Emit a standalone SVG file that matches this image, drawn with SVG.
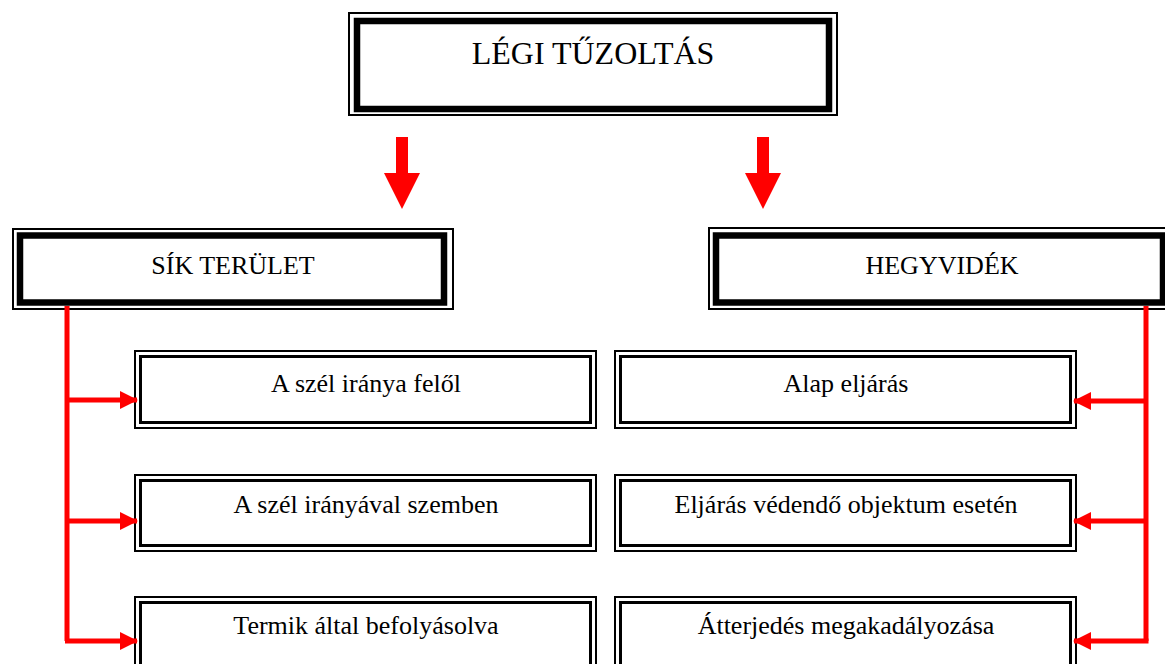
<svg xmlns="http://www.w3.org/2000/svg" width="1165" height="664" viewBox="0 0 1165 664">
<style>
.thin{fill:none;stroke:#000;stroke-width:2}
.thick{fill:none;stroke:#000;stroke-width:6.5}
.inner{fill:none;stroke:#000;stroke-width:3}
.lbl{font-family:"Liberation Serif","Times New Roman",serif;fill:#000;text-anchor:middle}
.big{font-size:32px}
.mid{font-size:26px}
.red{fill:none;stroke:#ff0000;stroke-width:5}
.arr{fill:#ff0000}
</style>
<defs>
<marker id="ah" markerUnits="userSpaceOnUse" markerWidth="18" markerHeight="18" viewBox="0 0 18 18" refX="17" refY="9" orient="auto">
<polygon points="0,0 18,9 0,18" fill="#ff0000"/>
</marker>
</defs>
<rect x="0" y="0" width="1165" height="664" fill="#fff"/>

<g id="legi-tuzoltas">
<rect class="thin" x="349" y="13" width="488" height="102"/>
<rect class="thick" x="357" y="21" width="472" height="88"/>
<text class="lbl big" x="593" y="64">LÉGI TŰZOLTÁS</text>
</g>

<g id="sik-terulet">
<rect class="thin" x="13" y="229" width="440" height="80"/>
<rect class="thick" x="20" y="235.5" width="424" height="67"/>
<text class="lbl mid" x="233" y="274">SÍK TERÜLET</text>
</g>

<g id="hegyvidek">
<rect class="thin" x="709" y="228" width="470" height="81"/>
<rect class="thick" x="716" y="235.5" width="447" height="67"/>
<text class="lbl mid" x="942" y="274">HEGYVIDÉK</text>
</g>

<g id="szel-felol">
<rect class="thin" x="135" y="351" width="461" height="77"/>
<rect class="inner" x="140.5" y="356.5" width="450" height="66"/>
<text class="lbl mid" x="366" y="392">A szél iránya felől</text>
</g>
<g id="szel-szemben">
<rect class="thin" x="135" y="475" width="461" height="76"/>
<rect class="inner" x="140.5" y="480.5" width="450" height="65"/>
<text class="lbl mid" x="366" y="513">A szél irányával szemben</text>
</g>
<g id="termik">
<rect class="thin" x="135" y="597" width="461" height="76"/>
<rect class="inner" x="140.5" y="602.5" width="450" height="65"/>
<text class="lbl mid" x="366" y="634">Termik által befolyásolva</text>
</g>

<g id="alap-eljaras">
<rect class="thin" x="615" y="351" width="461" height="77"/>
<rect class="inner" x="620.5" y="356.5" width="450" height="66"/>
<text class="lbl mid" x="846" y="392">Alap eljárás</text>
</g>
<g id="vedendo-objektum">
<rect class="thin" x="615" y="475" width="461" height="76"/>
<rect class="inner" x="620.5" y="480.5" width="450" height="65"/>
<text class="lbl mid" x="846" y="513">Eljárás védendő objektum esetén</text>
</g>
<g id="atterjedes">
<rect class="thin" x="615" y="597" width="461" height="76"/>
<rect class="inner" x="620.5" y="602.5" width="450" height="65"/>
<text class="lbl mid" x="846" y="634">Átterjedés megakadályozása</text>
</g>

<g id="connectors">
<polygon class="arr" points="396,137 408,137 408,173 420,173 402,209 384,173 396,173"/>
<polygon class="arr" points="757,137 769,137 769,173 781,173 763,209 745,173 757,173"/>
<path class="red" d="M67,306 V641"/>
<path class="red" d="M67,400 H137" marker-end="url(#ah)"/>
<path class="red" d="M67,521 H137" marker-end="url(#ah)"/>
<path class="red" d="M65,641 H137" marker-end="url(#ah)"/>
<path class="red" d="M1146,306 V641"/>
<path class="red" d="M1146,401 H1074" marker-end="url(#ah)"/>
<path class="red" d="M1146,521 H1074" marker-end="url(#ah)"/>
<path class="red" d="M1148.5,641 H1074" marker-end="url(#ah)"/>
</g>
</svg>
